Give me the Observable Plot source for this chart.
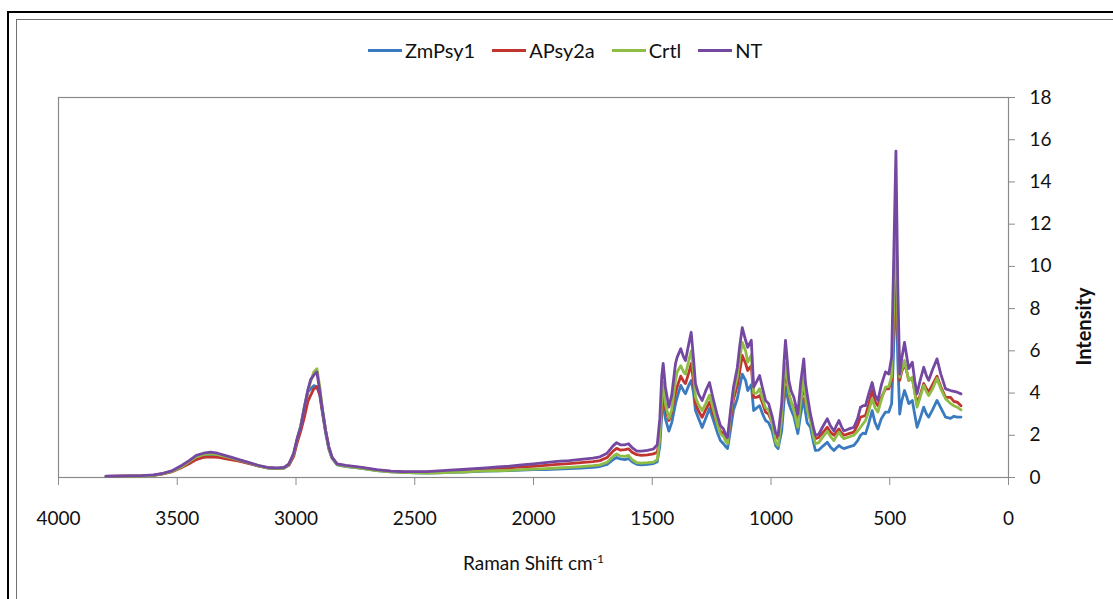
<!DOCTYPE html>
<html>
<head>
<meta charset="utf-8">
<script src="https://cdn.jsdelivr.net/npm/d3@7"></script>
<script src="https://cdn.jsdelivr.net/npm/@observablehq/plot@0.6"></script>
<style>
  html, body { margin: 0; padding: 0; background: #fff; overflow: hidden; }
  body { width: 1113px; height: 599px; position: relative; font-family: Lato, "Open Sans", sans-serif; }
  #outer { position: absolute; left: 7px; top: 11px; width: 1200px; height: 700px; border: 2.5px solid #000; box-sizing: border-box; }
  #inner { position: absolute; left: 16px; top: 19px; width: 1200px; height: 700px; border: 1.5px solid #707070; box-sizing: border-box; }
  #legend { position: absolute; left: 368px; top: 36px; height: 28px; display: flex; align-items: center; font-size: 20px; color: #111; }
  .item { display: flex; align-items: center; margin-right: 17px; }
  .swatch { width: 34px; height: 3px; margin-right: 3px; }
  #chart { position: absolute; left: 0; top: 80px; }
  #xtitle { position: absolute; top: 551px; left: 0; width: 1067px; text-align: center; font-size: 19px; color: #111; }
  #xtitle sup { font-size: 12px; vertical-align: 7px; line-height: 0; }
</style>
</head>
<body>
<div id="outer"></div>
<div id="inner"></div>
<div id="legend"></div>
<div id="chart"></div>
<div id="xtitle">Raman Shift cm<sup>-1</sup></div>
<script>
const seriesNames = ["ZmPsy1", "APsy2a", "Crtl", "NT"];
const seriesColors = ["#3a7bbf", "#c23430", "#8fbc45", "#7448a1"];
const xTicks = [4000, 3500, 3000, 2500, 2000, 1500, 1000, 500, 0];
const yTicks = [0, 2, 4, 6, 8, 10, 12, 14, 16, 18];

const waves = [3800,3750,3700,3650,3600,3560,3520,3480,3450,3420,3390,3360,3330,3300,3270,3240,3200,3160,3120,3080,3050,3030,3010,2995,2980,2965,2950,2938,2925,2912,2900,2888,2875,2862,2848,2827,2790,2730,2660,2600,2550,2500,2450,2400,2350,2300,2250,2200,2150,2100,2050,2000,1950,1900,1850,1800,1750,1720,1690,1665,1650,1635,1615,1600,1585,1565,1545,1520,1495,1479,1468,1460,1454,1445,1430,1418,1402,1395,1380,1368,1360,1345,1336,1326,1318,1305,1290,1275,1259,1242,1225,1213,1200,1190,1183,1170,1158,1142,1132,1121,1107,1098,1083,1073,1060,1048,1035,1023,1010,995,980,970,955,945,939,932,925,915,904,887,875,862,855,848,834,820,813,799,780,763,750,735,725,714,703,693,672,651,635,623,612,602,590,574,562,550,535,518,504,492,484,474,466,458,450,438,428,420,405,395,385,372,357,345,336,320,301,285,265,244,230,216,200];

const zmPsy1 = [0.04,0.05,0.06,0.07,0.10,0.18,0.30,0.52,0.72,0.92,1.02,1.05,1.02,0.95,0.88,0.80,0.68,0.55,0.45,0.42,0.45,0.60,1.05,1.80,2.45,3.30,4.05,4.20,4.35,4.30,3.90,3.00,2.10,1.35,0.90,0.60,0.52,0.45,0.33,0.27,0.24,0.22,0.21,0.22,0.24,0.26,0.28,0.30,0.31,0.33,0.35,0.37,0.38,0.40,0.42,0.45,0.48,0.52,0.62,0.85,0.95,0.88,0.85,0.90,0.75,0.62,0.60,0.62,0.66,0.75,1.50,3.00,3.57,2.80,2.20,2.60,3.50,3.80,4.36,4.10,3.97,4.40,4.60,4.00,3.17,2.80,2.37,2.80,3.27,2.70,2.10,1.75,1.60,1.45,1.37,2.30,3.20,3.73,4.30,4.90,4.60,4.12,4.40,3.17,3.30,3.40,3.00,2.70,2.60,2.20,1.50,1.37,2.20,3.60,4.28,3.90,3.50,3.20,2.90,2.08,3.00,3.73,3.10,2.60,2.38,1.60,1.28,1.30,1.50,1.67,1.45,1.28,1.40,1.52,1.42,1.37,1.45,1.52,1.75,2.00,2.10,2.07,2.50,3.17,2.60,2.30,2.80,3.10,3.10,3.50,6.00,9.50,5.50,3.00,3.60,4.12,3.80,3.50,3.65,3.00,2.38,2.80,3.33,3.00,2.86,3.20,3.65,3.30,2.86,2.80,2.90,2.86,2.86];

const aPsy2a = [0.05,0.06,0.07,0.08,0.10,0.17,0.28,0.48,0.65,0.85,0.95,0.98,0.96,0.90,0.84,0.77,0.67,0.55,0.46,0.43,0.46,0.58,1.00,1.65,2.20,2.85,3.60,3.90,4.20,4.30,3.95,3.10,2.20,1.45,0.95,0.63,0.55,0.47,0.35,0.29,0.26,0.25,0.25,0.27,0.30,0.33,0.37,0.40,0.43,0.46,0.50,0.53,0.57,0.62,0.66,0.70,0.75,0.80,0.95,1.25,1.38,1.30,1.32,1.36,1.20,1.08,1.05,1.07,1.12,1.20,1.90,3.40,4.10,3.30,2.70,3.10,4.00,4.30,4.80,4.55,4.45,5.00,5.40,4.50,3.50,3.15,2.85,3.20,3.57,3.00,2.50,2.20,2.05,1.85,1.75,2.80,3.70,4.36,5.00,5.78,5.40,5.07,5.30,3.80,3.80,3.88,3.50,3.10,3.00,2.60,1.95,1.84,2.80,4.30,5.07,4.60,3.90,3.55,3.30,2.70,3.60,4.45,3.60,3.20,2.85,2.10,1.84,1.90,2.15,2.38,2.15,2.00,2.15,2.30,2.10,2.00,2.08,2.15,2.50,2.86,2.90,2.94,3.40,4.12,3.60,3.40,3.80,4.20,4.20,4.60,7.50,11.00,7.00,4.60,5.00,5.40,5.00,4.60,4.70,4.10,3.50,3.90,4.45,4.20,4.04,4.40,4.80,4.30,3.80,3.80,3.60,3.57,3.40];

const crtl = [0.04,0.05,0.06,0.07,0.10,0.18,0.30,0.52,0.75,0.98,1.08,1.12,1.08,1.00,0.92,0.82,0.70,0.56,0.46,0.42,0.45,0.62,1.10,1.85,2.45,3.35,4.10,4.55,5.00,5.15,4.30,3.20,2.20,1.40,0.92,0.62,0.53,0.45,0.33,0.27,0.24,0.22,0.21,0.22,0.24,0.26,0.29,0.31,0.32,0.34,0.37,0.40,0.42,0.45,0.48,0.52,0.56,0.60,0.72,1.00,1.12,1.02,1.00,1.05,0.85,0.70,0.68,0.70,0.73,0.85,1.90,3.80,4.50,3.50,2.80,3.20,4.60,5.00,5.30,5.00,4.90,5.60,6.00,5.00,3.80,3.45,3.17,3.50,3.90,3.20,2.50,2.08,1.95,1.70,1.60,3.00,4.00,4.75,5.60,6.40,6.00,5.46,5.80,4.00,4.00,4.20,3.70,3.30,3.20,2.60,1.65,1.50,2.80,4.60,5.40,4.80,4.00,3.60,3.20,2.38,3.60,4.83,3.80,3.20,2.70,1.90,1.60,1.65,1.95,2.20,1.95,1.75,1.95,2.15,1.95,1.84,1.92,2.00,2.20,2.38,2.55,2.70,3.10,3.73,3.30,3.10,3.70,4.28,4.30,4.80,8.00,12.50,7.50,4.75,5.10,5.54,5.00,4.60,4.75,4.00,3.33,3.80,4.36,4.05,3.88,4.20,4.70,4.20,3.73,3.50,3.40,3.33,3.20];

const nt = [0.06,0.07,0.08,0.09,0.12,0.20,0.33,0.58,0.80,1.05,1.15,1.20,1.15,1.05,0.95,0.85,0.72,0.58,0.48,0.45,0.48,0.65,1.15,1.85,2.40,3.30,4.15,4.65,4.85,5.00,4.10,3.15,2.20,1.45,0.95,0.65,0.57,0.49,0.37,0.30,0.28,0.28,0.28,0.31,0.35,0.38,0.42,0.46,0.50,0.54,0.60,0.65,0.70,0.76,0.80,0.86,0.92,0.98,1.15,1.50,1.65,1.55,1.55,1.60,1.42,1.25,1.25,1.28,1.35,1.55,2.80,4.80,5.40,4.30,3.33,3.90,5.40,5.70,6.10,5.70,5.54,6.40,6.88,5.60,4.45,3.95,3.65,4.10,4.50,3.65,2.90,2.46,2.30,2.00,1.90,3.20,4.28,5.20,6.20,7.10,6.50,6.17,6.50,4.28,4.55,4.83,4.20,3.65,3.50,2.90,2.10,2.00,3.50,5.50,6.50,5.60,4.60,4.10,3.80,3.00,4.50,5.62,4.50,3.97,3.00,2.30,2.00,2.05,2.45,2.78,2.45,2.20,2.45,2.70,2.40,2.20,2.30,2.38,2.80,3.33,3.40,3.40,3.90,4.50,3.90,3.65,4.40,5.00,4.90,5.70,10.00,15.46,9.00,4.90,5.60,6.40,5.70,5.16,5.46,4.60,3.97,4.60,5.22,4.80,4.60,5.10,5.62,4.90,4.20,4.12,4.08,4.04,3.96];

const seriesValues = [zmPsy1, aPsy2a, crtl, nt];
const data = seriesNames.flatMap((s, i) => waves.map((w, j) => ({ w, v: seriesValues[i][j], s })));

// legend
const legend = document.getElementById("legend");
seriesNames.forEach((s, i) => {
  const it = document.createElement("div");
  it.className = "item";
  const sw = document.createElement("div");
  sw.className = "swatch";
  sw.style.background = seriesColors[i];
  const tx = document.createElement("span");
  tx.textContent = s;
  it.appendChild(sw); it.appendChild(tx);
  legend.appendChild(it);
});

const chart = Plot.plot({
  width: 1113,
  height: 519,
  marginTop: 17,
  marginBottom: 122,
  marginLeft: 58,
  marginRight: 105,
  style: { fontFamily: "Lato, 'Open Sans', sans-serif", fontSize: "19px", color: "#111", background: "transparent" },
  x: { domain: [4000, 0] },
  y: { domain: [0, 18] },
  color: { domain: seriesNames, range: seriesColors },
  marks: [
    Plot.frame({ stroke: "#8a8a8a", strokeWidth: 1.2 }),
    Plot.line(data, { x: "w", y: "v", z: "s", stroke: "s", strokeWidth: 2.8, strokeLinejoin: "round", strokeLinecap: "round" }),
    Plot.axisX({ ticks: xTicks, tickSize: 8, tickPadding: 26, stroke: "#8a8a8a", fill: "#111", label: null, fontSize: 19, tickFormat: d => String(d) }),
    Plot.axisY({ anchor: "right", ticks: yTicks, tickSize: 6, tickPadding: 15, stroke: "#8a8a8a", fill: "#111", label: null, fontSize: 19, tickFormat: d => String(d) }),
    Plot.text(["Intensity"], { frameAnchor: "right", dx: 76, rotate: -90, fontWeight: "bold", fontSize: 20, fill: "#111", style: "letter-spacing:1px" })
  ]
});
document.getElementById("chart").appendChild(chart);
</script>
</body>
</html>
